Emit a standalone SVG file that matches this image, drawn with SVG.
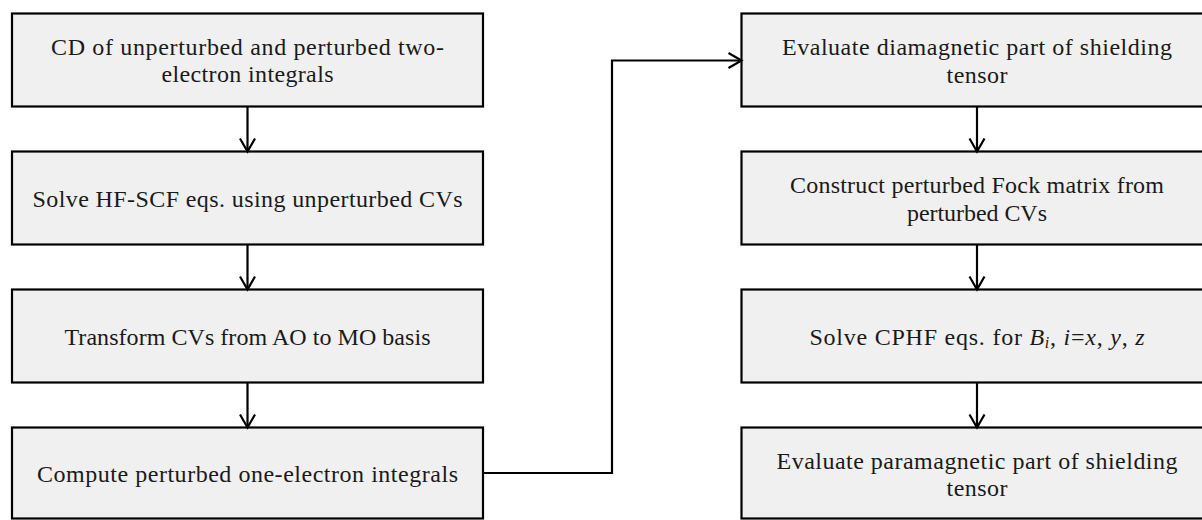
<svg xmlns="http://www.w3.org/2000/svg" width="1202" height="520" viewBox="0 0 1202 520">
  <style>
    .box { fill: #f0f0f0; stroke: #000; stroke-width: 2.2; }
    .lbl { font-family: "Liberation Serif", "Times New Roman", serif; font-size: 24px; fill: #1a1a1a; text-anchor: middle; }
    .it { font-style: italic; }
    .sub { font-style: italic; font-size: 16px; }
    .edge { fill: none; stroke: #000; stroke-width: 2.2; }
  </style>
  <defs>
    <marker id="arrow" markerUnits="userSpaceOnUse" markerWidth="20" markerHeight="20" refX="0" refY="0" viewBox="-16 -10 20 20" orient="auto">
      <path d="M -13 -7.5 L 0 0 L -13 7.5" fill="none" stroke="#000" stroke-width="2.2"/>
    </marker>
  </defs>

  <!-- left column -->
  <g id="cd-integrals">
    <rect class="box" x="12" y="13.5" width="471" height="93"/>
    <text class="lbl" x="247.5" y="55" textLength="393">CD of unperturbed and perturbed two-</text>
    <text class="lbl" x="247.5" y="82" textLength="172">electron integrals</text>
  </g>
  <g id="hf-scf">
    <rect class="box" x="12" y="151.5" width="471" height="93"/>
    <text class="lbl" x="247.5" y="206.5" textLength="430">Solve HF-SCF eqs. using unperturbed CVs</text>
  </g>
  <g id="transform-cvs">
    <rect class="box" x="12" y="289.5" width="471" height="93"/>
    <text class="lbl" x="247.5" y="344.5" textLength="366">Transform CVs from AO to MO basis</text>
  </g>
  <g id="one-electron">
    <rect class="box" x="12" y="427.5" width="471" height="91"/>
    <text class="lbl" x="247.5" y="481.5" textLength="421">Compute perturbed one-electron integrals</text>
  </g>

  <!-- right column -->
  <g id="diamagnetic">
    <rect class="box" x="741.5" y="13.5" width="471" height="93"/>
    <text class="lbl" x="977" y="55" textLength="390">Evaluate diamagnetic part of shielding</text>
    <text class="lbl" x="977" y="82.5" textLength="61">tensor</text>
  </g>
  <g id="fock-matrix">
    <rect class="box" x="741.5" y="151.5" width="471" height="93"/>
    <text class="lbl" x="977" y="193" textLength="374">Construct perturbed Fock matrix from</text>
    <text class="lbl" x="977" y="220.5" textLength="140">perturbed CVs</text>
  </g>
  <g id="cphf">
    <rect class="box" x="741.5" y="289.5" width="471" height="93"/>
    <text class="lbl" x="977" y="344.5" textLength="335">Solve CPHF eqs. for <tspan class="it">B</tspan><tspan class="sub" dy="3.5">i</tspan><tspan dy="-3.5">, </tspan><tspan class="it">i</tspan>=<tspan class="it">x</tspan>, <tspan class="it">y</tspan>, <tspan class="it">z</tspan></text>
  </g>
  <g id="paramagnetic">
    <rect class="box" x="741.5" y="427.5" width="471" height="91"/>
    <text class="lbl" x="977" y="468.5" textLength="401">Evaluate paramagnetic part of shielding</text>
    <text class="lbl" x="977" y="496" textLength="61">tensor</text>
  </g>

  <!-- connectors -->
  <g id="connectors">
    <path class="edge" d="M 247.5 106.5 L 247.5 151.5" marker-end="url(#arrow)"/>
    <path class="edge" d="M 247.5 244.5 L 247.5 289.5" marker-end="url(#arrow)"/>
    <path class="edge" d="M 247.5 382.5 L 247.5 427.5" marker-end="url(#arrow)"/>
    <path class="edge" d="M 483 473 L 612 473 L 612 60.5 L 741.5 60.5" marker-end="url(#arrow)"/>
    <path class="edge" d="M 977 106.5 L 977 151.5" marker-end="url(#arrow)"/>
    <path class="edge" d="M 977 244.5 L 977 289.5" marker-end="url(#arrow)"/>
    <path class="edge" d="M 977 382.5 L 977 427.5" marker-end="url(#arrow)"/>
  </g>
</svg>
